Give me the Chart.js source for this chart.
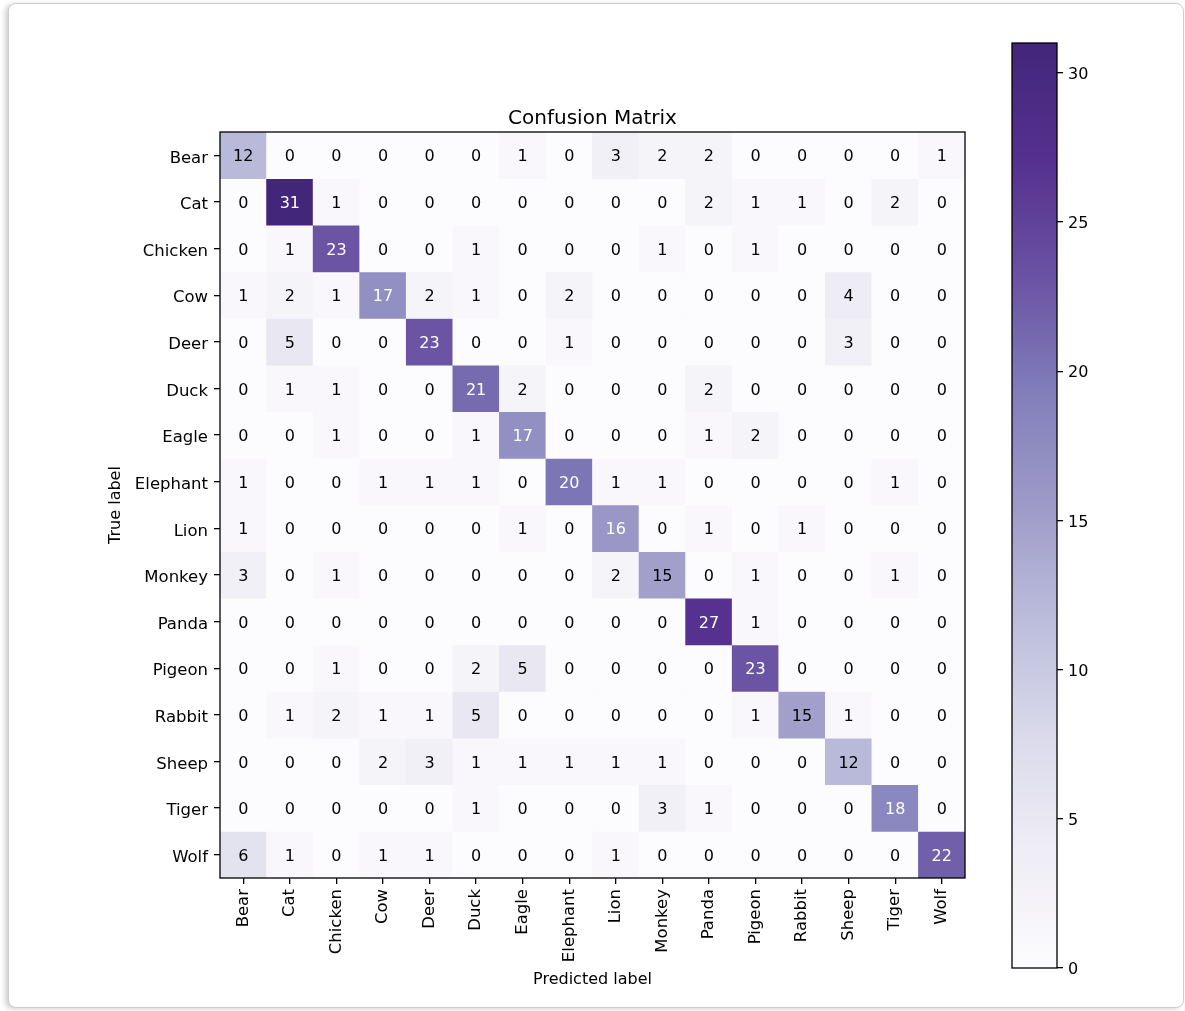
<!DOCTYPE html>
<html>
<head>
<meta charset="utf-8">
<script src="https://cdn.jsdelivr.net/npm/chart.js@4.4.1/dist/chart.umd.min.js"></script>
<style>
  html, body { margin: 0; padding: 0; background: #fff; width: 1185px; height: 1011px; overflow: hidden; }
  #card { position: absolute; left: 8px; top: 3px; width: 1174px; height: 1003px;
          border: 1px solid #cdcdcd; border-radius: 8px;
          box-shadow: -3px 1px 5px rgba(0,0,0,0.18); background: #fff; }
  #matrix { position: absolute; left: 0; top: 0; }
  #cbar { position: absolute; left: 990px; top: 0; }
</style>
</head>
<body>
<div id="card"></div>
<canvas id="matrix" width="990" height="1011"></canvas>
<canvas id="cbar" width="195" height="1011"></canvas>
<script>
// Class names (same order for true and predicted labels)
const classes = ['Bear', 'Cat', 'Chicken', 'Cow', 'Deer', 'Duck', 'Eagle', 'Elephant',
                 'Lion', 'Monkey', 'Panda', 'Pigeon', 'Rabbit', 'Sheep', 'Tiger', 'Wolf'];

// Counts per true label, one entry per predicted label
const bear     = [12, 0, 0, 0, 0, 0, 1, 0, 3, 2, 2, 0, 0, 0, 0, 1];
const cat      = [0, 31, 1, 0, 0, 0, 0, 0, 0, 0, 2, 1, 1, 0, 2, 0];
const chicken  = [0, 1, 23, 0, 0, 1, 0, 0, 0, 1, 0, 1, 0, 0, 0, 0];
const cow      = [1, 2, 1, 17, 2, 1, 0, 2, 0, 0, 0, 0, 0, 4, 0, 0];
const deer     = [0, 5, 0, 0, 23, 0, 0, 1, 0, 0, 0, 0, 0, 3, 0, 0];
const duck     = [0, 1, 1, 0, 0, 21, 2, 0, 0, 0, 2, 0, 0, 0, 0, 0];
const eagle    = [0, 0, 1, 0, 0, 1, 17, 0, 0, 0, 1, 2, 0, 0, 0, 0];
const elephant = [1, 0, 0, 1, 1, 1, 0, 20, 1, 1, 0, 0, 0, 0, 1, 0];
const lion     = [1, 0, 0, 0, 0, 0, 1, 0, 16, 0, 1, 0, 1, 0, 0, 0];
const monkey   = [3, 0, 1, 0, 0, 0, 0, 0, 2, 15, 0, 1, 0, 0, 1, 0];
const panda    = [0, 0, 0, 0, 0, 0, 0, 0, 0, 0, 27, 1, 0, 0, 0, 0];
const pigeon   = [0, 0, 1, 0, 0, 2, 5, 0, 0, 0, 0, 23, 0, 0, 0, 0];
const rabbit   = [0, 1, 2, 1, 1, 5, 0, 0, 0, 0, 0, 1, 15, 1, 0, 0];
const sheep    = [0, 0, 0, 2, 3, 1, 1, 1, 1, 1, 0, 0, 0, 12, 0, 0];
const tiger    = [0, 0, 0, 0, 0, 1, 0, 0, 0, 3, 1, 0, 0, 0, 18, 0];
const wolf     = [6, 1, 0, 1, 1, 0, 0, 0, 1, 0, 0, 0, 0, 0, 0, 22];

const matrix = [bear, cat, chicken, cow, deer, duck, eagle, elephant,
                lion, monkey, panda, pigeon, rabbit, sheep, tiger, wolf];

// Colour bar ticks
const cbarTicks = [0, 5, 10, 15, 20, 25, 30];

const vmax = Math.max(...matrix.flat());
const vmin = 0;
const threshold = (vmax + vmin) / 2;

// Sequential purple colour map (light to dark)
const purples = ['#fcfbfd', '#efedf5', '#dadaeb', '#bcbddc', '#9e9ac8',
                 '#807dba', '#6a51a3', '#55308f', '#42267a'];
function hexToRgb(h) {
  return [parseInt(h.slice(1, 3), 16), parseInt(h.slice(3, 5), 16), parseInt(h.slice(5, 7), 16)];
}
const purpleRgb = purples.map(hexToRgb);
function cmap(t) {
  t = Math.min(1, Math.max(0, t));
  const pos = t * (purpleRgb.length - 1);
  const i = Math.min(purpleRgb.length - 2, Math.floor(pos));
  const f = pos - i;
  const a = purpleRgb[i], b = purpleRgb[i + 1];
  const c = a.map((v, k) => Math.round(v + (b[k] - v) * f));
  return `rgb(${c[0]},${c[1]},${c[2]})`;
}

const FONT = "'DejaVu Sans', sans-serif";
Chart.defaults.font.family = FONT;
Chart.defaults.color = '#000';

// Black frame around the plotting area
const frame = {
  id: 'frame',
  afterDatasetsDraw(chart) {
    const { ctx, chartArea: a } = chart;
    ctx.save();
    ctx.strokeStyle = '#000';
    ctx.lineWidth = 1.3;
    ctx.strokeRect(a.left, a.top, a.right - a.left, a.bottom - a.top);
    ctx.restore();
  }
};

// Count written in the middle of each cell
const cellText = {
  id: 'cellText',
  afterDatasetsDraw(chart) {
    const { ctx, scales: { x, y } } = chart;
    ctx.save();
    ctx.font = `16px ${FONT}`;
    ctx.textAlign = 'center';
    ctx.textBaseline = 'middle';
    matrix.forEach((row, r) => {
      row.forEach((v, c) => {
        ctx.fillStyle = v > threshold ? '#ffffff' : '#000000';
        ctx.fillText(String(v), x.getPixelForValue(c), y.getPixelForValue(r) + 2);
      });
    });
    ctx.restore();
  }
};

const tickGrid = {
  display: true, drawOnChartArea: false, drawTicks: true,
  tickLength: 6, color: '#000', lineWidth: 1.3
};

new Chart(document.getElementById('matrix'), {
  type: 'bar',
  data: {
    labels: classes,
    datasets: matrix.map((row, r) => ({
      label: classes[r],
      data: row.map(() => [r - 0.5, r + 0.5]),
      backgroundColor: row.map(v => cmap((v - vmin) / (vmax - vmin))),
      borderWidth: 0,
      grouped: false,
      barPercentage: 1,
      categoryPercentage: 1
    }))
  },
  options: {
    responsive: false,
    devicePixelRatio: 1,
    animation: false,
    events: [],
    layout: { padding: { left: 106, right: 25, top: 100, bottom: 21.4 } },
    plugins: {
      legend: { display: false },
      tooltip: { enabled: false },
      title: {
        display: true,
        text: 'Confusion Matrix',
        fullSize: false,
        color: '#000',
        font: { family: FONT, size: 20, weight: 'normal', lineHeight: 1.2 },
        padding: { top: 7, bottom: 1 }
      }
    },
    scales: {
      x: {
        type: 'category',
        offset: true,
        grid: { ...tickGrid, offset: false },
        border: { display: false },
        ticks: { autoSkip: false, maxRotation: 90, minRotation: 90, padding: 5,
                 color: '#000', font: { family: FONT, size: 16.5 } },
        title: { display: true, text: 'Predicted label', color: '#000',
                 font: { family: FONT, size: 16, lineHeight: 1.2 }, padding: 0 },
        afterFit(s) { s.height = 111.6; }
      },
      y: {
        type: 'linear',
        reverse: true,
        min: -0.5,
        max: 15.5,
        grid: tickGrid,
        border: { display: false },
        afterBuildTicks(s) { s.ticks = classes.map((_, i) => ({ value: i })); },
        ticks: { autoSkip: false, padding: 6, labelOffset: 3, color: '#000',
                 font: { family: FONT, size: 16.5 },
                 callback: (v) => classes[v] },
        title: { display: true, text: 'True label', color: '#000',
                 font: { family: FONT, size: 16, lineHeight: 1.2 }, padding: 0 },
        afterFit(s) { s.width = 114; }
      }
    }
  },
  plugins: [frame, cellText]
});

// Colour bar: one bar spanning the value range, filled with the colour map
new Chart(document.getElementById('cbar'), {
  type: 'bar',
  data: {
    labels: [''],
    datasets: [{
      data: [[vmin, vmax]],
      borderWidth: 0,
      barPercentage: 1,
      categoryPercentage: 1,
      backgroundColor(ctx) {
        const chart = ctx.chart;
        const y = chart.scales.y;
        if (!chart.chartArea || !y) return purples[4];
        const g = chart.ctx.createLinearGradient(0, y.getPixelForValue(vmin), 0, y.getPixelForValue(vmax));
        purples.forEach((c, k) => g.addColorStop(k / (purples.length - 1), c));
        return g;
      }
    }]
  },
  options: {
    responsive: false,
    devicePixelRatio: 1,
    animation: false,
    events: [],
    layout: { padding: { left: 22, right: 68, top: 43, bottom: 43 } },
    plugins: { legend: { display: false }, tooltip: { enabled: false } },
    scales: {
      x: { display: false },
      y: {
        position: 'right',
        min: vmin,
        max: vmax,
        grid: tickGrid,
        border: { display: false },
        afterBuildTicks(s) { s.ticks = cbarTicks.map(v => ({ value: v })); },
        ticks: { padding: 5, labelOffset: 2, color: '#000', font: { family: FONT, size: 16 } },
        afterFit(s) { s.width = 60; }
      }
    }
  },
  plugins: [frame]
});
</script>
</body>
</html>
